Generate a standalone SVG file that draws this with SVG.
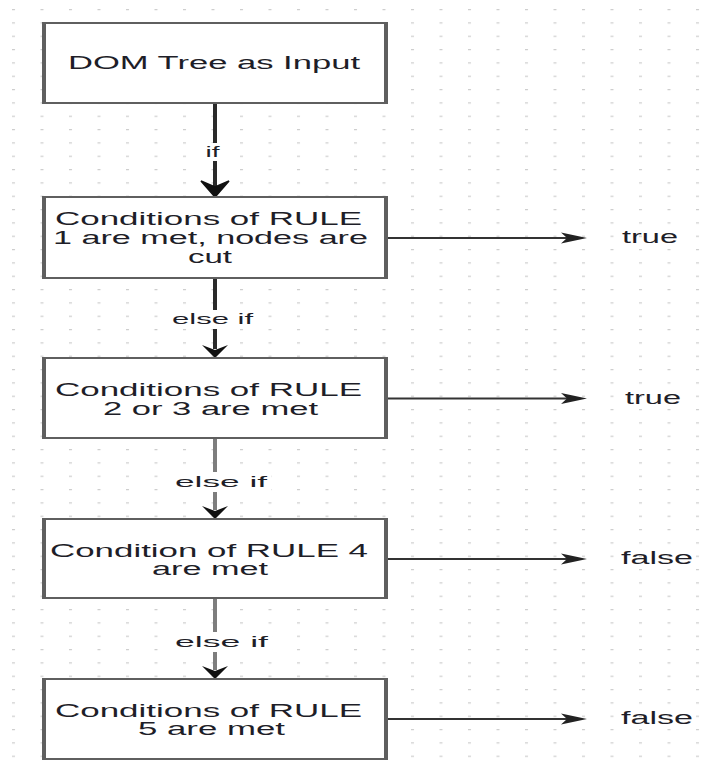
<svg xmlns="http://www.w3.org/2000/svg" width="720" height="765" viewBox="0 0 720 765">
<style>
.box{fill:#fff;stroke:#5f5f5f;stroke-width:2}
.side{stroke:#5f5f5f;stroke-width:4;fill:none}
.bt{font-family:"Liberation Sans",Arial,sans-serif;font-size:18px;fill:#1e1e28}
.lbl{font-family:"Liberation Sans",Arial,sans-serif;font-size:15px;fill:#1e1e28}
.out{font-family:"Liberation Sans",Arial,sans-serif;font-size:18px;fill:#1e1e28}
.vdark{stroke:#2a2a2a;stroke-width:4;fill:none}
.vgray{stroke:#7d7d7d;stroke-width:4;fill:none}
.h{stroke:#333;stroke-width:1.8;fill:none}
.head{fill:#111}
.hhead{fill:#222}
.bg{fill:#fff}
</style>
<defs>
<pattern id="grid" x="12" y="9" width="28.5" height="13.333" patternUnits="userSpaceOnUse">
<rect x="0" y="0" width="3" height="1.2" fill="#cdcdcd"/>
</pattern>
</defs>
<rect width="720" height="765" fill="#fff"/>
<rect width="720" height="765" fill="url(#grid)"/>

<g id="connectors">
<line class="vdark" x1="215" y1="103" x2="215" y2="186"/>
<polygon class="head" points="215,197 201,181 215,187 229,181" stroke="#111" stroke-width="1.5"/>
<rect class="bg" x="200" y="143" width="30" height="18"/>
<text class="lbl" x="205.5" y="157" textLength="14" lengthAdjust="spacingAndGlyphs">if</text>

<line class="vdark" x1="215" y1="278" x2="215" y2="349"/>
<polygon class="head" points="215,358 202,345 215,350 228,345"/>
<rect class="bg" x="168" y="310" width="89" height="19"/>
<text class="lbl" x="172" y="324" textLength="81" lengthAdjust="spacingAndGlyphs">else if</text>

<line class="vgray" x1="215" y1="438" x2="215" y2="510"/>
<polygon class="head" points="215,519 202,506 215,511 228,506"/>
<rect class="bg" x="171" y="472" width="100" height="20"/>
<text class="lbl" x="175" y="487" textLength="92" lengthAdjust="spacingAndGlyphs">else if</text>

<line class="vgray" x1="215" y1="598" x2="215" y2="670"/>
<polygon class="head" points="215,679 202,666 215,671 228,666"/>
<rect class="bg" x="171" y="632" width="101" height="20"/>
<text class="lbl" x="175" y="647" textLength="93" lengthAdjust="spacingAndGlyphs">else if</text>

<line class="h" x1="388" y1="238" x2="570" y2="238"/>
<polygon class="hhead" points="587,238 561,232.5 567,238 561,243.5"/>
<line class="h" x1="388" y1="398.5" x2="570" y2="398.5"/>
<polygon class="hhead" points="587,398.5 561,393 567,398.5 561,404"/>
<line class="h" x1="388" y1="559" x2="570" y2="559"/>
<polygon class="hhead" points="587,559 561,553.5 567,559 561,564.5"/>
<line class="h" x1="388" y1="719" x2="570" y2="719"/>
<polygon class="hhead" points="587,719 561,713.5 567,719 561,724.5"/>
</g>

<g id="node1">
<rect class="box" x="43" y="23" width="344" height="80"/>
<path class="side" d="M44,23V103M386,23V103"/>
<text class="bt" x="68" y="69" textLength="292" lengthAdjust="spacingAndGlyphs">DOM Tree as Input</text>
</g>
<g id="node2">
<rect class="box" x="43" y="197" width="344" height="81"/>
<path class="side" d="M44,197V278M386,197V278"/>
<text class="bt" x="55" y="225" textLength="307" lengthAdjust="spacingAndGlyphs">Conditions of RULE</text>
<text class="bt" x="53" y="243.5" textLength="315" lengthAdjust="spacingAndGlyphs">1 are met, nodes are</text>
<text class="bt" x="188" y="262.5" textLength="44" lengthAdjust="spacingAndGlyphs">cut</text>
</g>
<g id="node3">
<rect class="box" x="43" y="358" width="344" height="80"/>
<path class="side" d="M44,358V438M386,358V438"/>
<text class="bt" x="55" y="396" textLength="307" lengthAdjust="spacingAndGlyphs">Conditions of RULE</text>
<text class="bt" x="103" y="414.5" textLength="215" lengthAdjust="spacingAndGlyphs">2 or 3 are met</text>
</g>
<g id="node4">
<rect class="box" x="43" y="519" width="344" height="79"/>
<path class="side" d="M44,519V598M386,519V598"/>
<text class="bt" x="50" y="556.5" textLength="318" lengthAdjust="spacingAndGlyphs">Condition of RULE 4</text>
<text class="bt" x="152" y="575" textLength="116" lengthAdjust="spacingAndGlyphs">are met</text>
</g>
<g id="node5">
<rect class="box" x="43" y="679" width="344" height="80"/>
<path class="side" d="M44,679V759M386,679V759"/>
<text class="bt" x="55" y="716.5" textLength="307" lengthAdjust="spacingAndGlyphs">Conditions of RULE</text>
<text class="bt" x="138" y="735" textLength="147" lengthAdjust="spacingAndGlyphs">5 are met</text>
</g>

<g id="out1"><text class="out" x="622" y="243" textLength="56" lengthAdjust="spacingAndGlyphs">true</text></g>
<g id="out2"><text class="out" x="625" y="403.5" textLength="56" lengthAdjust="spacingAndGlyphs">true</text></g>
<g id="out3"><text class="out" x="621" y="564" textLength="72" lengthAdjust="spacingAndGlyphs">false</text></g>
<g id="out4"><text class="out" x="621" y="724" textLength="72" lengthAdjust="spacingAndGlyphs">false</text></g>
</svg>
